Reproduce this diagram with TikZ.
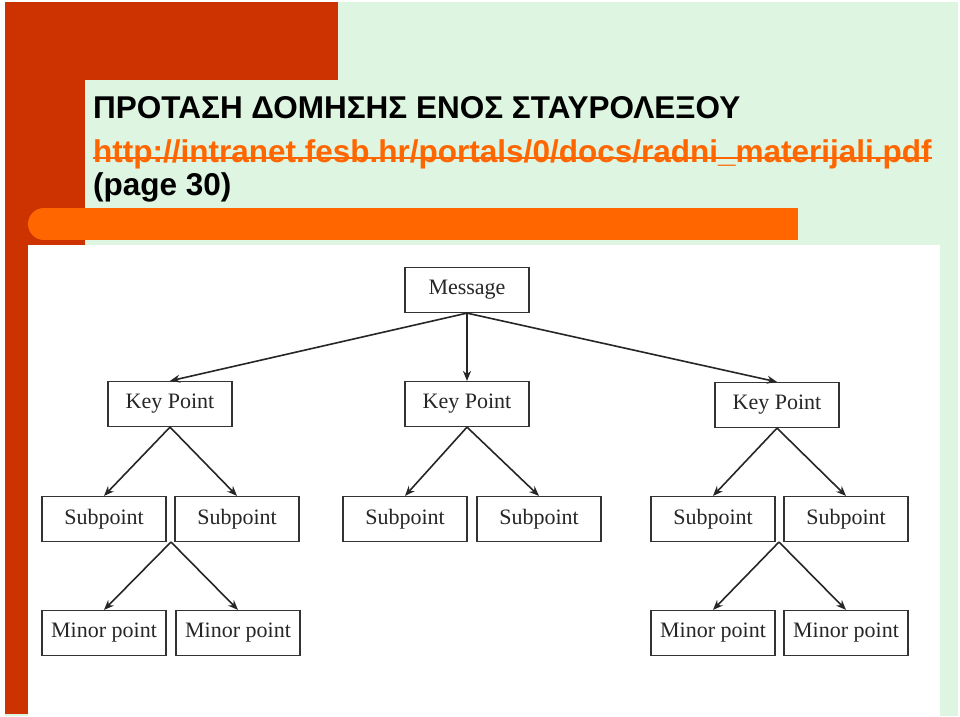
\documentclass[tikz,border=0pt]{standalone}
\usepackage{fontspec}
\setmainfont{Liberation Serif}
\newfontfamily\ttl{Liberation Sans}
\usetikzlibrary{arrows.meta}
\definecolor{bg}{HTML}{DDF5E1}
\definecolor{redb}{HTML}{CC3300}
\definecolor{orb}{HTML}{FF6600}
\begin{document}
\begin{tikzpicture}[x=1pt,y=-1pt,
  box/.style={draw=black!80,line width=1.2pt,fill=white,minimum width=124pt,minimum height=45pt,inner sep=0pt,font=\fontsize{22}{25}\selectfont,text=black!85},
  arr/.style={-{Stealth[length=10pt,width=8pt]},line width=1.6pt,black!85},
  tl/.style={anchor=base west,inner sep=0pt,font=\ttl\bfseries\fontsize{31.5}{36}\selectfont}]
\useasboundingbox (0,0) rectangle (960,716);
\fill[white] (0,0) rectangle (960,716);
\fill[bg] (5,2) rectangle (958,716);
\fill[redb] (5,2) rectangle (338,80);
\fill[redb] (5,2) rectangle (28,714);
\fill[redb] (5,2) rectangle (85,245);
\fill[bg,rounded corners=20pt] (85,80) rectangle (400,300);
\fill[orb] (44,208) rectangle (798,240);
\fill[orb] (44,224) circle [radius=16];
\fill[white] (28,245) rectangle (940,716);
\node[tl] (t1) at (93,118) {ΠΡΟΤΑΣΗ ΔΟΜΗΣΗΣ ΕΝΟΣ ΣΤΑΥΡΟΛΕΞΟΥ};
\node[tl,text=orb] (t2) at (93,162) {http://intranet.fesb.hr/portals/0/docs/radni\_materijali.pdf};
\draw[orb,line width=2.5pt] ([yshift=4pt]t2.base west) -- ([yshift=4pt]t2.base east);
\node[tl] (t3) at (93,195) {(page 30)};
\node[box] (m) at (467,290) {Message};
\node[box] (k1) at (170,404) {Key Point};
\node[box] (k2) at (467,404) {Key Point};
\node[box] (k3) at (777,405) {Key Point};
\node[box] (s1) at (104,519) {Subpoint};
\node[box] (s2) at (237,519) {Subpoint};
\node[box] (s3) at (405,519) {Subpoint};
\node[box] (s4) at (539,519) {Subpoint};
\node[box] (s5) at (713,519) {Subpoint};
\node[box] (s6) at (846,519) {Subpoint};
\node[box] (n1) at (104,633) {Minor point};
\node[box] (n2) at (238,633) {Minor point};
\node[box] (n3) at (713,633) {Minor point};
\node[box] (n4) at (846,633) {Minor point};
\coordinate (c1) at (171,542);
\coordinate (c2) at (779,542);
\draw[arr] (m.south) -- (k1.north);
\draw[arr] (m.south) -- (k2.north);
\draw[arr] (m.south) -- (k3.north);
\draw[arr] (k1.south) -- (s1.north);
\draw[arr] (k1.south) -- (s2.north);
\draw[arr] (k2.south) -- (s3.north);
\draw[arr] (k2.south) -- (s4.north);
\draw[arr] (k3.south) -- (s5.north);
\draw[arr] (k3.south) -- (s6.north);
\draw[arr] (c1) -- (n1.north);
\draw[arr] (c1) -- (n2.north);
\draw[arr] (c2) -- (n3.north);
\draw[arr] (c2) -- (n4.north);
\end{tikzpicture}
\end{document}
